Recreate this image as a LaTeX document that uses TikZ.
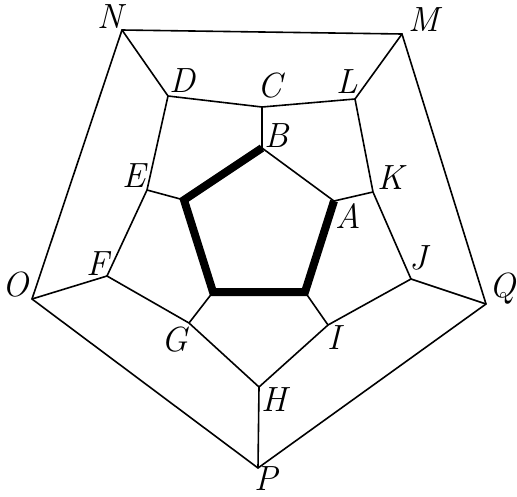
\documentclass[tikz,border=0pt]{standalone}
\usepackage{fontspec}
\begin{document}
\begin{tikzpicture}[x=1pt,y=-1pt,
  lab/.style={inner sep=0pt,font=\fontsize{35}{40}\selectfont\itshape},
  edge/.style={line width=1.6pt,line join=miter},
  thick edge/.style={line width=8pt,line join=miter,line cap=butt}]
\useasboundingbox (0,0) rectangle (517,496);
% outer
\coordinate (N) at (122,30);
\coordinate (M) at (402,34);
\coordinate (Q) at (486,304);
\coordinate (P) at (258,468);
\coordinate (O) at (32,299);
% middle
\coordinate (D) at (168,96);
\coordinate (C) at (262,107);
\coordinate (L) at (355,99);
\coordinate (K) at (373,192);
\coordinate (J) at (411,279);
\coordinate (I) at (328,325);
\coordinate (H) at (259,387);
\coordinate (G) at (189,323);
\coordinate (F) at (107,276);
\coordinate (E) at (147,190);
% inner
\coordinate (B) at (262,148);
\coordinate (A) at (334,201);
\coordinate (R) at (305,292);
\coordinate (S) at (213,292);
\coordinate (T) at (184,200);
% thin edges
\draw[edge] (N) -- (M) -- (Q) -- (P) -- (O) -- cycle;
\draw[edge] (N) -- (D);
\draw[edge] (M) -- (L);
\draw[edge] (Q) -- (J);
\draw[edge] (P) -- (H);
\draw[edge] (O) -- (F);
\draw[edge] (D) -- (C) -- (L) -- (K) -- (J) -- (I) -- (H) -- (G) -- (F) -- (E) -- cycle;
\draw[edge] (C) -- (B);
\draw[edge] (K) -- (A);
\draw[edge] (I) -- (R);
\draw[edge] (G) -- (S);
\draw[edge] (E) -- (T);
\draw[edge] (B) -- (A);
% thick path
\draw[thick edge] (A) -- (R) -- (S) -- (T) -- (B);
% labels
\node[lab] (lN) at (110,17) {N};
\node[lab] (lM) at (424,20) {M};
\node[lab] (lQ) at (503,289) {Q};
\node[lab] (lP) at (266,479) {P};
\node[lab] (lO) at (16,285) {O};
\node[lab] (lD) at (182,81) {D};
\node[lab] (lC) at (270,86) {C};
\node[lab] (lL) at (347,82) {L};
\node[lab] (lK) at (391,178) {K};
\node[lab] (lJ) at (418,258) {J};
\node[lab] (lI) at (334,338) {I};
\node[lab] (lH) at (274,400) {H};
\node[lab] (lG) at (175,340) {G};
\node[lab] (lF) at (98,264) {F};
\node[lab] (lE) at (134,176) {E};
\node[lab] (lB) at (277,136) {B};
\node[lab] (lA) at (348,216) {A};
\end{tikzpicture}
\end{document}
